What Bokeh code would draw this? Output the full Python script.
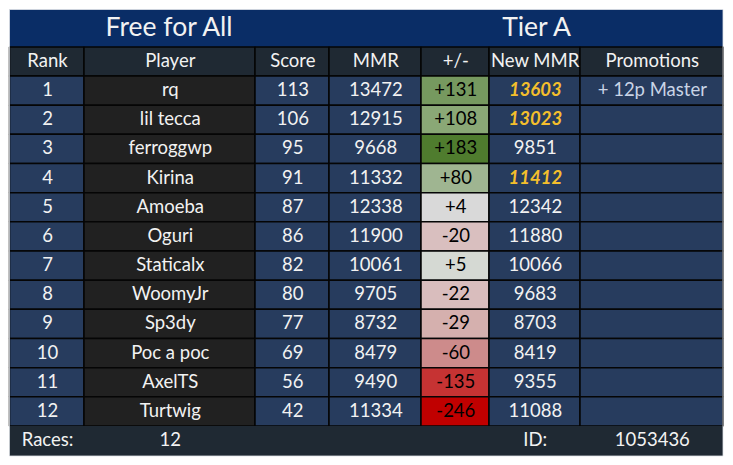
from bokeh.plotting import figure
from bokeh.models import ColumnDataSource
from bokeh.core.properties import value
from bokeh.embed import file_html
from bokeh.resources import INLINE

# ---- chart values ----
title_left = "Free for All"
title_right = "Tier A"
headers = ["Rank", "Player", "Score", "MMR", "+/-", "New MMR", "Promotions"]
ranks = [1, 2, 3, 4, 5, 6, 7, 8, 9, 10, 11, 12]
players = ["rq", "lil tecca", "ferroggwp", "Kirina", "Amoeba", "Oguri", "Staticalx",
           "WoomyJr", "Sp3dy", "Poc a poc", "AxelTS", "Turtwig"]
scores = [113, 106, 95, 91, 87, 86, 82, 80, 77, 69, 56, 42]
mmr = [13472, 12915, 9668, 11332, 12338, 11900, 10061, 9705, 8732, 8479, 9490, 11334]
deltas = [131, 108, 183, 80, 4, -20, 5, -22, -29, -60, -135, -246]
new_mmr = [13603, 13023, 9851, 11412, 12342, 11880, 10066, 9683, 8703, 8419, 9355, 11088]
promotions = ["+ 12p Master", "", "", "", "", "", "", "", "", "", "", ""]
rank_up = [True, True, False, True, False, False, False, False, False, False, False, False]
races = 12
table_id = 1053436

# ---- styles / layout ----
delta_colors = ["#76995f", "#8aa876", "#4f7c2e", "#9fb591", "#d9d9d9", "#d9bfbf",
                "#d5d9d3", "#d9bdbd", "#d5b0ae", "#cd8b8b", "#c63333", "#c00000"]
FONT = "Lato"
COL = [10, 84.5, 255.5, 329.5, 421.5, 489.5, 580.5, 723.5]
TOP, HEAD, ROW0, ROWN, BOTTOM = 10, 47.5, 76.5, 426.5, 456.5
PITCH = (ROWN - ROW0) / len(ranks)
NAVY, DARK, BLUE, GREY = "#0a2d66", "#1f2933", "#273c5e", "#212121"
WHITE = "#f2f2f2"
TEXT_DX, TEXT_DY = 0.8, -1.0

p = figure(width=733, height=465, x_range=(1, 734), y_range=(466, 1),
           output_backend="svg", toolbar_location=None, min_border=0,
           outline_line_color=None, background_fill_color="white",
           border_fill_color="white")
p.axis.visible = False
p.grid.visible = False

# bands
p.quad(left=[COL[0], COL[0]], right=[COL[-1], COL[-1]], top=[TOP, ROWN], bottom=[HEAD, BOTTOM],
       fill_color=[NAVY, DARK], line_color=None)

# header and body cells
cells = dict(l=[], r=[], t=[], b=[], c=[])
def cell(l, r, t, b, c):
    cells["l"].append(l); cells["r"].append(r); cells["t"].append(t); cells["b"].append(b); cells["c"].append(c)

for j in range(7):
    cell(COL[j], COL[j + 1], HEAD, ROW0, DARK)
for i in range(len(ranks)):
    t, b = ROW0 + i * PITCH, ROW0 + (i + 1) * PITCH
    col_colors = [BLUE, GREY, BLUE, BLUE, delta_colors[i], BLUE, BLUE]
    for j in range(7):
        cell(COL[j], COL[j + 1], t, b, col_colors[j])
p.quad(left="l", right="r", top="t", bottom="b", fill_color="c", line_color="#050505",
       line_width=1.5, source=ColumnDataSource(cells))
# footer repainted so no cell lines intrude below the last row
p.quad(left=[COL[0]], right=[COL[-1]], top=[ROWN], bottom=[BOTTOM], fill_color=DARK, line_color=None)

# light page edge around the table
p.quad(left=[COL[0]], right=[COL[-1]], top=[TOP], bottom=[BOTTOM], fill_color=None,
       line_color="#dfe3e8", line_width=0.8)

def put(x, y, text, size="18.5px", color=WHITE, style="normal", align="center"):
    p.text(x=[x + TEXT_DX], y=[y + TEXT_DY], text=[text], text_font=value(FONT), text_font_size=value(size),
           text_color=color, text_align=align, text_baseline="middle", text_font_style=style)

def mid(j):
    return (COL[j] + COL[j + 1]) / 2

put(169.5, 27, title_left, size="26.5px")
put(537, 27, title_right, size="26.5px")
for j, h in enumerate(headers):
    put(mid(j), 61, h)

for i in range(len(ranks)):
    y = ROW0 + (i + 0.5) * PITCH - 0.5
    put(mid(0), y, str(ranks[i]))
    put(mid(1), y, players[i])
    put(mid(2), y, str(scores[i]))
    put(mid(3), y, str(mmr[i]))
    put(mid(4), y, f"{deltas[i]:+d}", color="#000000")
    if rank_up[i]:
        put(mid(5), y, str(new_mmr[i]), color="#f4bf2c", style="bold italic")
    else:
        put(mid(5), y, str(new_mmr[i]))
    if promotions[i]:
        put(mid(6), y, promotions[i], color="#c9d4e6")

fy = 440
put(mid(0), fy, "Races:")
put(mid(1), fy, str(races))
put(mid(5), fy, "ID:")
put(mid(6), fy, str(table_id))

open("out.html", "w").write(file_html(p, INLINE))
